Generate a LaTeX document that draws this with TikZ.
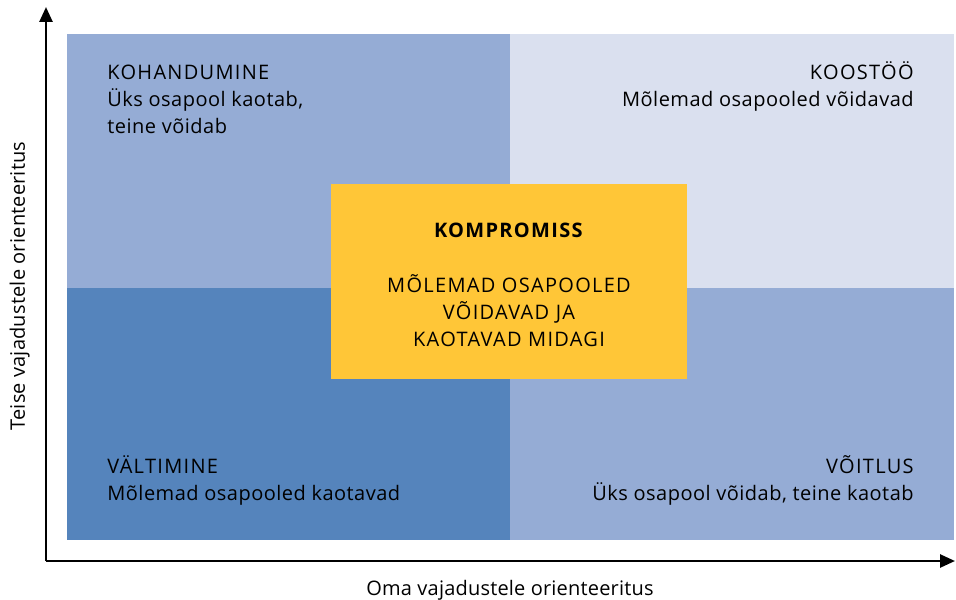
\documentclass[tikz,border=0pt]{standalone}
\usepackage{fontspec}
\setmainfont[LetterSpace=2.4]{Open Sans}
\newfontfamily\capsfont[LetterSpace=6.5]{Open Sans}
\newfontfamily\axisfont[LetterSpace=1]{Open Sans}
\usetikzlibrary{arrows.meta}

\definecolor{quadmid}{RGB}{149,172,213}
\definecolor{quadlight}{RGB}{218,224,239}
\definecolor{quaddark}{RGB}{85,132,188}
\definecolor{kompyellow}{RGB}{255,198,55}

\tikzset{
  qtext/.style={font=\fontsize{10}{13.35}\selectfont, inner sep=0pt},
  axis/.style={line width=1.3pt, -{Triangle[length=7.5pt,width=6.5pt]}},
  kompbox/.style={fill=kompyellow, minimum width=178pt, minimum height=97.5pt}
}

\begin{document}
\begin{tikzpicture}[x=0.5pt,y=-0.5pt]
\useasboundingbox (0,0) rectangle (956,599);
% quadrants
\fill[quadmid] (67,34) rectangle (510,288);
\fill[quadlight] (510,34) rectangle (954,288);
\fill[quaddark] (67,288) rectangle (510,540);
\fill[quadmid] (510,288) rectangle (954,540);
% axes
\coordinate (origin) at (46,561);
\coordinate (ytip) at (46,7);
\coordinate (xtip) at (955,561);
\draw[axis] (origin) -- (ytip);
\draw[axis] (origin) -- (xtip);
\node[qtext, anchor=base] (xlabel) at (510,595) {\axisfont Oma vajadustele orienteeritus};
\node[qtext, anchor=base, rotate=90] (ylabel) at (25,286) {\axisfont Teise vajadustele orienteeritus};
% quadrant texts (base = last line)
\node[qtext, anchor=base west, align=left] (kohandumine) at (107,133)
  {{\capsfont KOHANDUMINE}\\Üks osapool kaotab,\\teine võidab};
\node[qtext, anchor=base east, align=right] (koostoo) at (914,106.7)
  {{\capsfont KOOSTÖÖ}\\Mõlemad osapooled võidavad};
\node[qtext, anchor=base west, align=left] (valtimine) at (107,500.5)
  {{\capsfont VÄLTIMINE}\\Mõlemad osapooled kaotavad};
\node[qtext, anchor=base east, align=right] (voitlus) at (914,500.5)
  {{\capsfont VÕITLUS}\\Üks osapool võidab, teine kaotab};
% middle
\node[kompbox] (kompromiss) at (509,281.5) {};
\node[qtext, anchor=base, align=center, font=\fontsize{10}{13.35}\selectfont\capsfont] (komptext) at (509,346.3)
  {\textbf{KOMPROMISS}\\[14.3pt]MÕLEMAD OSAPOOLED\\VÕIDAVAD JA\\KAOTAVAD MIDAGI};
\end{tikzpicture}
\end{document}
